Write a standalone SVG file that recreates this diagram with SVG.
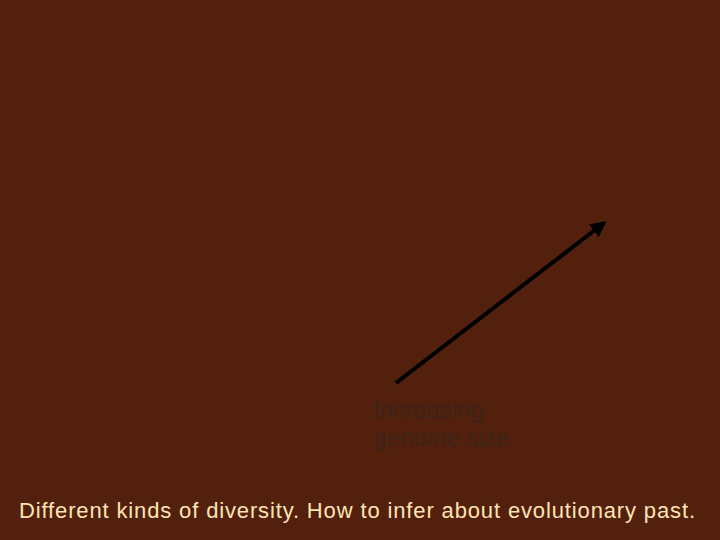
<svg xmlns="http://www.w3.org/2000/svg" width="720" height="540" viewBox="0 0 720 540">
<defs>
<style>
.lbl{font-family:"Liberation Sans",Arial,sans-serif;font-size:24px;fill:#3c2418}
.cap{font-family:"Liberation Sans",Arial,sans-serif;font-size:22px;fill:#ffe4b4}
</style>
<marker id="ah" viewBox="0 0 10 10" refX="8" refY="5" markerWidth="4" markerHeight="4" orient="auto" markerUnits="strokeWidth">
<path d="M0,0 L10,5 L0,10 Z" fill="#000"/>
</marker>
</defs>
<rect width="720" height="540" fill="#52200c"/>
<g id="connectors">
<line x1="396" y1="383" x2="604" y2="223" stroke="#000" stroke-width="4" marker-end="url(#ah)"/>
</g>
<g id="label">
<text class="lbl" x="373" y="418">Increasing</text>
<text class="lbl" x="373" y="446">genome size</text>
</g>
<g id="caption">
<text class="cap" x="19" y="518" textLength="676" lengthAdjust="spacing">Different kinds of diversity. How to infer about evolutionary past.</text>
</g>
</svg>
